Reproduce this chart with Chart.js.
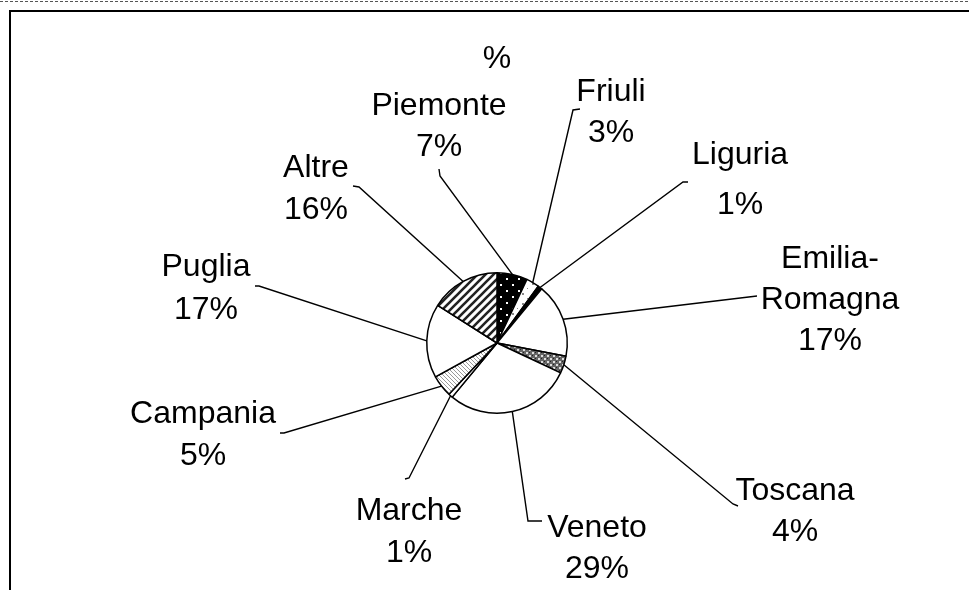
<!DOCTYPE html>
<html>
<head>
<meta charset="utf-8">
<script src="https://cdn.jsdelivr.net/npm/chart.js@4/dist/chart.umd.min.js"></script>
<style>
html,body{margin:0;padding:0;background:#fff;}
canvas{display:block;}
</style>
</head>
<body>
<canvas id="c" width="969" height="590"></canvas>
<script>
// ---- data ----
const chartTitle = '%';
const regions = ['Piemonte','Friuli','Liguria','Emilia-Romagna','Toscana','Veneto','Marche','Campania','Puglia','Altre'];
const shares = [7,3,1,17,4,29,1,5,17,16];

// ---- label layout (text centre x, first baseline y, line gap, leader start points) ----
const labelLayout = [
  {x:439, y:115, lh:41, lead:[[439,169],[440,176]]},
  {x:611, y:101, lh:41, lead:[[580,109],[573,110]]},
  {x:740, y:164, lh:50, lead:[[688,182],[683,182]]},
  {x:830, y:268, lh:41, lead:[[757,296]]},
  {x:795, y:500, lh:41, lead:[[738,506],[733,504]]},
  {x:597, y:537, lh:41, lead:[[542,521],[528,521]]},
  {x:409, y:520, lh:42, lead:[[405,479],[409,478]]},
  {x:203, y:423, lh:42, lead:[[280,433],[284,433]]},
  {x:206, y:276, lh:43, lead:[[255,286],[259,286]]},
  {x:316, y:177, lh:42, lead:[[353,186],[359,187]]}
];
const FONT = '32px "Liberation Sans", Arial, sans-serif';

// ---- patterns ----
function mk(w,h,draw){const c=document.createElement('canvas');c.width=w;c.height=h;const g=c.getContext('2d');draw(g);return g.createPattern(c,'repeat');}
const patDots = mk(12,12,g=>{g.fillStyle='#000';g.fillRect(0,0,12,12);g.fillStyle='#fff';g.fillRect(2,2,2,2);g.fillRect(8,8,2,2);});
const patSparse = mk(10,10,g=>{g.fillStyle='#fff';g.fillRect(0,0,10,10);g.fillStyle='#888';g.fillRect(2,3,2,2);g.fillRect(7,8,1,1);});
const patCheck = mk(6,6,g=>{g.fillStyle='#666';g.fillRect(0,0,6,6);g.fillStyle='#ddd';g.fillRect(1,1,2,2);g.fillRect(4,4,2,2);g.fillStyle='#222';g.fillRect(4,1,1,1);g.fillRect(1,4,1,1);});
const patLight = mk(4,4,g=>{g.fillStyle='#fff';g.fillRect(0,0,4,4);g.fillStyle='#999';for(let i=0;i<4;i++){g.fillRect(i,i,1,1);}});
const patWide = mk(8,8,g=>{g.fillStyle='#fff';g.fillRect(0,0,8,8);g.strokeStyle='#222';g.lineWidth=2.6;g.beginPath();g.moveTo(-2,10);g.lineTo(10,-2);g.moveTo(-2,2);g.lineTo(2,-2);g.moveTo(6,10);g.lineTo(10,6);g.stroke();});
const fills = [patDots, patSparse, '#000', '#fff', patCheck, '#fff', '#fff', patLight, '#fff', patWide];

// ---- plugins ----
const framePlugin = {
  id:'frame',
  beforeDraw(chart){
    const c=chart.ctx;
    c.save();
    c.fillStyle='#fff';c.fillRect(0,0,chart.width,chart.height);
    c.strokeStyle='#555';c.lineWidth=1;c.setLineDash([3,2]);
    c.beginPath();c.moveTo(0,1.5);c.lineTo(chart.width,1.5);c.stroke();
    c.setLineDash([]);
    c.strokeStyle='#000';c.lineWidth=2;
    c.beginPath();c.moveTo(10,chart.height+5);c.lineTo(10,11);c.lineTo(chart.width+5,11);c.stroke();
    c.restore();
  }
};
const labelPlugin = {
  id:'labels',
  afterDraw(chart){
    const c=chart.ctx;
    const meta=chart.getDatasetMeta(0);
    c.save();
    c.font=FONT;c.fillStyle='#000';c.textAlign='center';c.textBaseline='alphabetic';
    c.fillText(chartTitle,497,68);
    c.strokeStyle='#000';c.lineWidth=1.4;
    meta.data.forEach((arc,i)=>{
      const p=arc.getProps(['x','y','startAngle','endAngle','outerRadius'],true);
      const mid=(p.startAngle+p.endAngle)/2;
      const ex=p.x+Math.cos(mid)*p.outerRadius, ey=p.y+Math.sin(mid)*p.outerRadius;
      const L=labelLayout[i];
      c.beginPath();
      c.moveTo(L.lead[0][0],L.lead[0][1]);
      for(let k=1;k<L.lead.length;k++)c.lineTo(L.lead[k][0],L.lead[k][1]);
      c.lineTo(ex,ey);c.stroke();
      const name=regions[i];
      const idx=name.indexOf('-');
      const lines = idx>0 ? [name.slice(0,idx+1), name.slice(idx+1)] : [name];
      lines.push(shares[i]+'%');
      lines.forEach((t,j)=>c.fillText(t,L.x,L.y+j*L.lh));
    });
    c.restore();
  }
};

new Chart(document.getElementById('c'),{
  type:'pie',
  data:{labels:regions,datasets:[{data:shares,backgroundColor:fills,borderColor:'#000',borderWidth:1.5}]},
  options:{
    responsive:false,animation:false,
    layout:{padding:{left:426,right:401,top:272,bottom:176}},
    plugins:{legend:{display:false},tooltip:{enabled:false},title:{display:false}}
  },
  plugins:[framePlugin,labelPlugin]
});
</script>
</body>
</html>
